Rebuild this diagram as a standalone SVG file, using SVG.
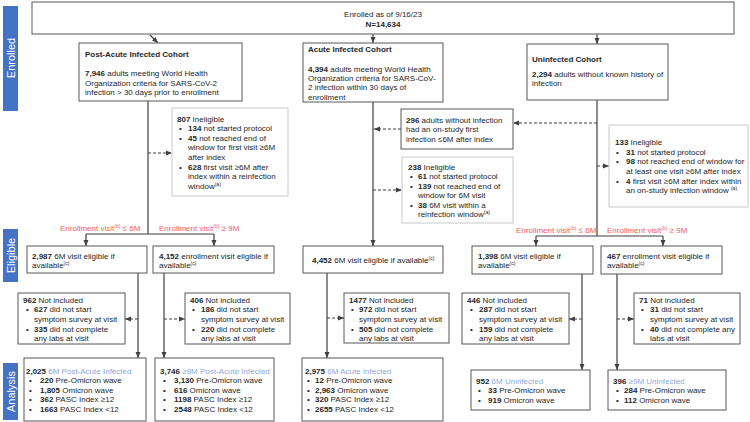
<svg xmlns="http://www.w3.org/2000/svg" width="750" height="422" viewBox="0 0 750 422">
<style>
.box{fill:#fff;stroke:#595959;stroke-width:1}
.gbox{fill:#fff;stroke:#c9c9c9;stroke-width:1}
text{font-family:"Liberation Sans",Arial,sans-serif;font-size:8px;fill:#262626}
.b{font-weight:bold}
.red{fill:#f25c5c;font-size:8px}
.lb{fill:#8ea9db}
.band{fill:#4472c4}
.bt{fill:#fff;font-size:11px}
.sup{font-size:5px}
.ln{stroke:#404040;stroke-width:1.2;fill:none}
.dash{stroke-dasharray:3,2}
</style>
<defs>
<marker id="ah" markerUnits="userSpaceOnUse" markerWidth="6" markerHeight="6" viewBox="0 0 6 6" refX="6" refY="3" orient="auto">
<path d="M0,0.5 L6,3 L0,5.5 Z" fill="#404040"/>
</marker>
</defs>
<rect width="750" height="422" fill="#fff"/>
<g id="bands">
<rect class="band" x="3" y="6" width="15" height="105"/>
<text class="bt" transform="translate(14.5,58) rotate(-90)" text-anchor="middle">Enrolled</text>
<rect class="band" x="3" y="229" width="15" height="53"/>
<text class="bt" transform="translate(14.5,255.5) rotate(-90)" text-anchor="middle">Eligible</text>
<rect class="band" x="3" y="363" width="15" height="57"/>
<text class="bt" transform="translate(14.5,391.5) rotate(-90)" text-anchor="middle">Analysis</text>
</g>
<g id="connectors">
<line class="ln" x1="150" y1="35" x2="158" y2="43" marker-end="url(#ah)"/>
<line class="ln" x1="373" y1="34" x2="373" y2="43" marker-end="url(#ah)"/>
<line class="ln" x1="597" y1="34" x2="597" y2="44" marker-end="url(#ah)"/>
<line class="ln" x1="148" y1="101" x2="148" y2="234"/>
<line class="ln" x1="86" y1="234" x2="214" y2="234"/>
<line class="ln" x1="86" y1="234" x2="86" y2="246" marker-end="url(#ah)"/>
<line class="ln" x1="214" y1="234" x2="214" y2="246" marker-end="url(#ah)"/>
<line class="ln dash" x1="148" y1="153" x2="172" y2="153" marker-end="url(#ah)"/>
<line class="ln" x1="373" y1="102" x2="373" y2="246" marker-end="url(#ah)"/>
<line class="ln dash" x1="401" y1="129" x2="374" y2="129" marker-end="url(#ah)"/>
<line class="ln dash" x1="597" y1="123" x2="513" y2="123" marker-end="url(#ah)"/>
<line class="ln dash" x1="373" y1="190" x2="402" y2="190" marker-end="url(#ah)"/>
<line class="ln" x1="597" y1="100" x2="597" y2="236"/>
<line class="ln" x1="536" y1="236" x2="663" y2="236"/>
<line class="ln" x1="536" y1="236" x2="536" y2="246" marker-end="url(#ah)"/>
<line class="ln" x1="663" y1="236" x2="663" y2="246" marker-end="url(#ah)"/>
<line class="ln dash" x1="597" y1="166" x2="609" y2="166" marker-end="url(#ah)"/>
<line class="ln" x1="138" y1="273" x2="138" y2="358" marker-end="url(#ah)"/>
<line class="ln dash" x1="138" y1="319" x2="125" y2="319" marker-end="url(#ah)"/>
<line class="ln" x1="164" y1="273" x2="164" y2="358" marker-end="url(#ah)"/>
<line class="ln dash" x1="164" y1="319" x2="185" y2="319" marker-end="url(#ah)"/>
<line class="ln" x1="327" y1="273" x2="327" y2="358" marker-end="url(#ah)"/>
<line class="ln dash" x1="327" y1="318" x2="344" y2="318" marker-end="url(#ah)"/>
<line class="ln" x1="582" y1="274" x2="582" y2="370" marker-end="url(#ah)"/>
<line class="ln dash" x1="582" y1="319" x2="569" y2="319" marker-end="url(#ah)"/>
<line class="ln" x1="617" y1="274" x2="617" y2="370" marker-end="url(#ah)"/>
<line class="ln dash" x1="617" y1="319" x2="634" y2="319" marker-end="url(#ah)"/>
</g>
<g id="enrolled">
<rect class="box" x="32" y="2" width="702" height="32"/>
<text x="383" y="17" text-anchor="middle">Enrolled as of 9/16/23</text>
<text class="b" x="383" y="27" text-anchor="middle">N=14,634</text>
</g>
<g id="postacute">
<rect class="box" x="79" y="43" width="163" height="58"/>
<text class="b" x="85" y="57">Post-Acute Infected Cohort</text>
<text x="85" y="76"><tspan class="b">7,946</tspan> adults meeting World Health</text>
<text x="85" y="86">Organization criteria for SARS-CoV-2</text>
<text x="85" y="95">infection &gt; 30 days prior to enrollment</text>
</g>
<g id="acute">
<rect class="box" x="303" y="43" width="140" height="59"/>
<text class="b" x="308" y="52">Acute Infected Cohort</text>
<text x="308" y="72"><tspan class="b">4,394</tspan> adults meeting World Health</text>
<text x="308" y="81">Organization criteria for SARS-CoV-</text>
<text x="308" y="90">2 infection within 30 days of</text>
<text x="308" y="100">enrollment</text>
</g>
<g id="uninfected">
<rect class="box" x="527" y="44" width="141" height="56"/>
<text class="b" x="532" y="62">Uninfected Cohort</text>
<text x="532" y="77"><tspan class="b">2,294</tspan> adults without known history of</text>
<text x="532" y="86">infection</text>
</g>
<g id="inel807">
<rect class="gbox" x="172" y="108" width="116" height="88"/>
<text x="177" y="122"><tspan class="b">807</tspan> Ineligible</text>
<text x="179" y="131">•</text><text x="188" y="131"><tspan class="b">134</tspan> not started protocol</text>
<text x="179" y="141">•</text><text x="188" y="141"><tspan class="b">45</tspan> not reached end of</text>
<text x="188" y="150">window for first visit ≥6M</text>
<text x="188" y="160">after index</text>
<text x="179" y="170">•</text><text x="188" y="170"><tspan class="b">628</tspan> first visit ≥6M after</text>
<text x="188" y="179">index within a reinfection</text>
<text x="188" y="189">window<tspan class="sup" dy="-3">(a)</tspan></text>
</g>
<g id="excl296">
<rect class="box" x="401" y="109" width="112" height="40"/>
<text x="406" y="123"><tspan class="b">296</tspan> adults without infection</text>
<text x="406" y="132">had an on-study first</text>
<text x="406" y="142">infection ≤6M after index</text>
</g>
<g id="inel238">
<rect class="gbox" x="402" y="157" width="111" height="66"/>
<text x="408" y="170"><tspan class="b">238</tspan> Ineligible</text>
<text x="410" y="179">•</text><text x="418" y="179"><tspan class="b">61</tspan> not started protocol</text>
<text x="410" y="189">•</text><text x="418" y="189"><tspan class="b">139</tspan> not reached end of</text>
<text x="418" y="198">window for 6M visit</text>
<text x="410" y="208">•</text><text x="418" y="208"><tspan class="b">38</tspan> 6M visit within a</text>
<text x="418" y="217">reinfection window<tspan class="sup" dy="-3">(a)</tspan></text>
</g>
<g id="inel133">
<rect class="gbox" x="609" y="125" width="139" height="82"/>
<text x="615" y="145"><tspan class="b">133</tspan> Ineligible</text>
<text x="616" y="155">•</text><text x="626" y="155"><tspan class="b">31</tspan> not started protocol</text>
<text x="616" y="164">•</text><text x="626" y="164"><tspan class="b">98</tspan> not reached end of window for</text>
<text x="626" y="174">at least one visit ≥6M after index</text>
<text x="616" y="184">•</text><text x="626" y="184"><tspan class="b">4</tspan> first visit ≥6M after index within</text>
<text x="626" y="193">an on-study infection window <tspan class="sup" dy="-3">(a)</tspan></text>
</g>
<g id="labels">
<text class="red" x="60" y="231">Enrollment visit<tspan class="sup" dy="-3">(b)</tspan><tspan dy="3"> ≤ 6M</tspan></text>
<text class="red" x="159" y="231">Enrollment visit<tspan class="sup" dy="-3">(b)</tspan><tspan dy="3"> ≥ 9M</tspan></text>
<text class="red" x="516" y="233">Enrollment visit<tspan class="sup" dy="-3">(b)</tspan><tspan dy="3"> ≤ 6M</tspan></text>
<text class="red" x="607" y="233">Enrollment visit<tspan class="sup" dy="-3">(b)</tspan><tspan dy="3"> ≥ 9M</tspan></text>
</g>
<g id="elig2987">
<rect class="box" x="27" y="246" width="120" height="27"/>
<text x="32" y="259"><tspan class="b">2,987</tspan> 6M visit eligible if</text>
<text x="32" y="268">available<tspan class="sup" dy="-3">(c)</tspan></text>
</g>
<g id="elig4152">
<rect class="box" x="153" y="246" width="121" height="27"/>
<text x="159" y="259"><tspan class="b">4,152</tspan> enrollment visit eligible if</text>
<text x="159" y="268">available<tspan class="sup" dy="-3">(c)</tspan></text>
</g>
<g id="elig4452">
<rect class="box" x="303" y="246" width="140" height="27"/>
<text x="312" y="263"><tspan class="b">4,452</tspan> 6M visit eligible if available<tspan class="sup" dy="-3">(c)</tspan></text>
</g>
<g id="elig1398">
<rect class="box" x="472" y="246" width="121" height="28"/>
<text x="478" y="259"><tspan class="b">1,398</tspan> 6M visit eligible if</text>
<text x="478" y="268">available<tspan class="sup" dy="-3">(c)</tspan></text>
</g>
<g id="elig467">
<rect class="box" x="601" y="246" width="121" height="28"/>
<text x="607" y="259"><tspan class="b">467</tspan> enrollment visit eligible if</text>
<text x="607" y="268">available<tspan class="sup" dy="-3">(c)</tspan></text>
</g>
<g id="ni962">
<rect class="box" x="18" y="293" width="107" height="51"/>
<text x="23" y="303"><tspan class="b">962</tspan> Not included</text>
<text x="26" y="312">•</text><text x="34" y="312"><tspan class="b">627</tspan> did not start</text>
<text x="34" y="322">symptom survey at visit</text>
<text x="26" y="332">•</text><text x="34" y="332"><tspan class="b">335</tspan> did not complete</text>
<text x="34" y="341">any labs at visit</text>
</g>
<g id="ni406">
<rect class="box" x="185" y="293" width="105" height="51"/>
<text x="190" y="303"><tspan class="b">406</tspan> Not included</text>
<text x="192" y="312">•</text><text x="201" y="312"><tspan class="b">186</tspan> did not start</text>
<text x="201" y="322">symptom survey at visit</text>
<text x="192" y="332">•</text><text x="201" y="332"><tspan class="b">220</tspan> did not complete</text>
<text x="201" y="341">any labs at visit</text>
</g>
<g id="ni1477">
<rect class="box" x="344" y="293" width="105" height="50"/>
<text x="349" y="303"><tspan class="b">1477</tspan> Not included</text>
<text x="351" y="312">•</text><text x="359" y="312"><tspan class="b">972</tspan> did not start</text>
<text x="359" y="322">symptom survey at visit</text>
<text x="351" y="332">•</text><text x="359" y="332"><tspan class="b">505</tspan> did not complete</text>
<text x="359" y="341">any labs at visit</text>
</g>
<g id="ni446">
<rect class="box" x="462" y="293" width="107" height="51"/>
<text x="467" y="303"><tspan class="b">446</tspan> Not included</text>
<text x="470" y="312">•</text><text x="479" y="312"><tspan class="b">287</tspan> did not start</text>
<text x="479" y="322">symptom survey at visit</text>
<text x="470" y="332">•</text><text x="479" y="332"><tspan class="b">159</tspan> did not complete</text>
<text x="479" y="341">any labs at visit</text>
</g>
<g id="ni71">
<rect class="box" x="634" y="293" width="106" height="51"/>
<text x="639" y="303"><tspan class="b">71</tspan> Not included</text>
<text x="641" y="312">•</text><text x="650" y="312"><tspan class="b">31</tspan> did not start</text>
<text x="650" y="322">symptom survey at visit</text>
<text x="641" y="332">•</text><text x="650" y="332"><tspan class="b">40</tspan> did not complete any</text>
<text x="650" y="341">labs at visit</text>
</g>
<g id="an2025">
<rect class="box" x="24" y="358" width="122" height="63"/>
<text x="26" y="374"><tspan class="b">2,025</tspan> <tspan class="lb">6M Post-Acute Infected</tspan></text>
<text x="29" y="383">•</text><text x="40" y="383"><tspan class="b">220</tspan> Pre-Omicron wave</text>
<text x="29" y="393">•</text><text x="40" y="393"><tspan class="b">1,805</tspan> Omicron wave</text>
<text x="29" y="402">•</text><text x="40" y="402"><tspan class="b">362</tspan> PASC Index ≥12</text>
<text x="29" y="412">•</text><text x="40" y="412"><tspan class="b">1663</tspan> PASC Index &lt;12</text>
</g>
<g id="an3746">
<rect class="box" x="155" y="358" width="119" height="63"/>
<text x="160" y="374"><tspan class="b">3,746</tspan> <tspan class="lb">≥9M Post-Acute Infected</tspan></text>
<text x="163" y="383">•</text><text x="174" y="383"><tspan class="b">3,130</tspan> Pre-Omicron wave</text>
<text x="163" y="393">•</text><text x="174" y="393"><tspan class="b">616</tspan> Omicron wave</text>
<text x="163" y="402">•</text><text x="174" y="402"><tspan class="b">1198</tspan> PASC Index ≥12</text>
<text x="163" y="412">•</text><text x="174" y="412"><tspan class="b">2548</tspan> PASC Index &lt;12</text>
</g>
<g id="an2975">
<rect class="box" x="302" y="358" width="141" height="63"/>
<text x="305" y="374"><tspan class="b">2,975</tspan> <tspan class="lb">6M Acute Infected</tspan></text>
<text x="307" y="383">•</text><text x="315" y="383"><tspan class="b">12</tspan> Pre-Omicron wave</text>
<text x="307" y="393">•</text><text x="315" y="393"><tspan class="b">2,963</tspan> Omicron wave</text>
<text x="307" y="402">•</text><text x="315" y="402"><tspan class="b">320</tspan> PASC Index ≥12</text>
<text x="307" y="412">•</text><text x="315" y="412"><tspan class="b">2655</tspan> PASC Index &lt;12</text>
</g>
<g id="an952">
<rect class="box" x="471" y="370" width="119" height="40"/>
<text x="476" y="384"><tspan class="b">952</tspan> <tspan class="lb">6M Uninfected</tspan></text>
<text x="478" y="393">•</text><text x="488" y="393"><tspan class="b">33</tspan> Pre-Omicron wave</text>
<text x="478" y="403">•</text><text x="488" y="403"><tspan class="b">919</tspan> Omicron wave</text>
</g>
<g id="an396">
<rect class="box" x="608" y="370" width="118" height="40"/>
<text x="613" y="384"><tspan class="b">396</tspan> <tspan class="lb">≥9M Uninfected</tspan></text>
<text x="616" y="393">•</text><text x="624" y="393"><tspan class="b">284</tspan> Pre-Omicron wave</text>
<text x="616" y="403">•</text><text x="624" y="403"><tspan class="b">112</tspan> Omicron wave</text>
</g>
</svg>
